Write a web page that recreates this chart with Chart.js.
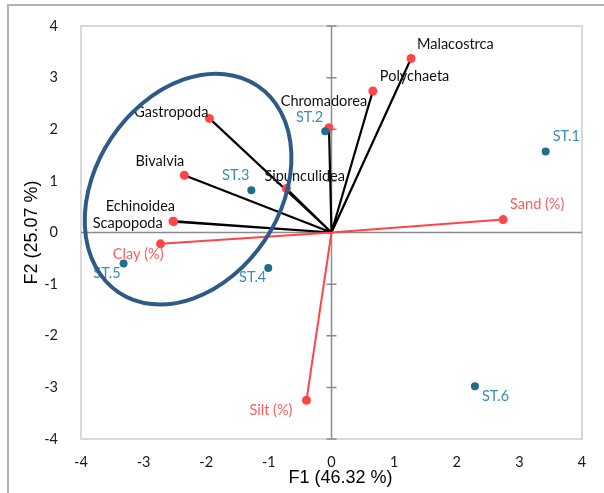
<!DOCTYPE html>
<html>
<head>
<meta charset="utf-8">
<script src="https://cdn.jsdelivr.net/npm/chart.js@4"></script>
<style>
  html, body { margin: 0; padding: 0; background: #ffffff; }
  #wrap { width: 604px; height: 493px; position: relative; }
</style>
</head>
<body>
<div id="wrap"><canvas id="c" width="604" height="493"></canvas></div>
<script>
// ---------- data ----------
const speciesNames = ['Malacostrca', 'Polychaeta', 'Chromadorea', 'Gastropoda', 'Bivalvia', 'Sipunculidea', 'Echinoidea', 'Scapopoda'];
const speciesF1 = [1.27, 0.66, -0.04, -1.95, -2.35, -0.72, -2.53, -2.52];
const speciesF2 = [3.37, 2.74, 2.03, 2.21, 1.11, 0.85, 0.22, 0.21];

const envNames = ['Sand (%)', 'Silt (%)', 'Clay (%)'];
const envF1 = [2.74, -0.40, -2.73];
const envF2 = [0.25, -3.25, -0.22];

const stationNames = ['ST.1', 'ST.2', 'ST.3', 'ST.4', 'ST.5', 'ST.6'];
const stationF1 = [3.42, -0.10, -1.28, -1.01, -3.32, 2.29];
const stationF2 = [1.57, 1.96, 0.82, -0.69, -0.60, -2.98];

const axisTicks = [-4, -3, -2, -1, 0, 1, 2, 3, 4];
const xTitle = 'F1 (46.32 %)';
const yTitle = 'F2 (25.07 %)';

// grouping ellipse (data units): centre, end of major axis, end of minor axis
const ellipseCenter = [-2.29, 0.84];
const ellipseMajorEnd = [-1.18, 2.84];
const ellipseMinorEnd = [-1.07, -0.16];

// ---------- helpers ----------
function points(xs, ys) { return xs.map((x, i) => ({ x: x, y: ys[i] })); }
function vectors(xs, ys) {
  const out = [];
  xs.forEach((x, i) => { out.push({ x: 0, y: 0 }, { x: x, y: ys[i] }, { x: null, y: null }); });
  return out;
}

const RED = '#ff4545';
const RED_TXT = '#ff5c5c';
const BLUE_DOT = '#1f6e8c';
const BLUE_TXT = '#3b8db5';
const LABEL_FONT = '14.5px Lato';

// label placement: [dx, dy, align] relative to each point
const labelPlacement = {
  species: [[6, -14, 'left'], [7, -15, 'left'], [-5, -26, 'center'], [-1, -6, 'right'], [0, -14, 'right'], [-22, -12, 'left'], [2, -15, 'right'], [-11, 2, 'right']],
  env: [[7, -15, 'left'], [-14, 10, 'right'], [3, 10, 'right']],
  stations: [[7, -15, 'left'], [-2, -14, 'right'], [-2, -15, 'right'], [-2, 9, 'right'], [-3, 10, 'right'], [7, 10, 'left']]
};

const framePlugin = {
  id: 'frame',
  beforeDraw(chart) {
    const ctx = chart.ctx;
    ctx.save();
    ctx.strokeStyle = '#b4b4b4';
    ctx.lineWidth = 2;
    ctx.beginPath();
    ctx.moveTo(8, 500); ctx.lineTo(8, 5); ctx.lineTo(610, 5);
    ctx.stroke();
    ctx.restore();
  },
  beforeDatasetsDraw(chart) {
    const { ctx, chartArea: a, scales: { x, y } } = chart;
    ctx.save();
    ctx.strokeStyle = '#d9d9d9';
    ctx.lineWidth = 2;
    ctx.strokeRect(a.left, a.top, a.right - a.left, a.bottom - a.top);
    const x0 = x.getPixelForValue(0), y0 = y.getPixelForValue(0);
    ctx.strokeStyle = '#8c8c8c';
    ctx.lineWidth = 1.5;
    ctx.beginPath();
    ctx.moveTo(a.left, y0); ctx.lineTo(a.right, y0);
    ctx.moveTo(x0, a.top); ctx.lineTo(x0, a.bottom);
    axisTicks.forEach(v => {
      const py = y.getPixelForValue(v);
      ctx.moveTo(x0 - 5, py); ctx.lineTo(x0 + 5, py);
    });
    ctx.stroke();
    // x axis title (Excel places it slightly right of the plot centre)
    ctx.fillStyle = '#000000';
    ctx.font = '18px "Liberation Sans"';
    ctx.textAlign = 'center';
    ctx.textBaseline = 'middle';
    ctx.fillText(xTitle, (a.left + a.right) / 2 + 9, a.bottom + 39);
    ctx.restore();
  }
};

const labelPlugin = {
  id: 'pointLabels',
  afterDatasetsDraw(chart) {
    const ctx = chart.ctx;
    ctx.save();
    ctx.font = LABEL_FONT;
    ctx.textBaseline = 'middle';
    chart.data.datasets.forEach((ds, di) => {
      if (!ds.labelKey) return;
      const meta = chart.getDatasetMeta(di);
      const names = ds.names;
      meta.data.forEach((el, i) => {
        const p = labelPlacement[ds.labelKey][i];
        ctx.fillStyle = ds.labelColor;
        ctx.textAlign = p[2];
        ctx.fillText(names[i], el.x + p[0], el.y + p[1]);
      });
    });
    // grouping ellipse on top
    const { x, y } = chart.scales;
    const cx = x.getPixelForValue(ellipseCenter[0]), cy = y.getPixelForValue(ellipseCenter[1]);
    const mx = x.getPixelForValue(ellipseMajorEnd[0]) - cx, my = y.getPixelForValue(ellipseMajorEnd[1]) - cy;
    const nx = x.getPixelForValue(ellipseMinorEnd[0]) - cx, ny = y.getPixelForValue(ellipseMinorEnd[1]) - cy;
    ctx.strokeStyle = '#2e5a88';
    ctx.lineWidth = 4;
    ctx.beginPath();
    ctx.ellipse(cx, cy, Math.hypot(mx, my), Math.hypot(nx, ny), Math.atan2(my, mx), 0, Math.PI * 2);
    ctx.stroke();
    ctx.restore();
  }
};

const tickFont = { family: 'Lato', size: 14.5 };

new Chart(document.getElementById('c'), {
  type: 'scatter',
  data: {
    datasets: [
      { data: points(stationF1, stationF2), names: stationNames, labelKey: 'stations', labelColor: BLUE_TXT,
        pointRadius: 4, pointBackgroundColor: BLUE_DOT, pointBorderWidth: 0, showLine: false, order: 0 },
      { data: points(envF1, envF2), names: envNames, labelKey: 'env', labelColor: RED_TXT,
        pointRadius: 4.5, pointBackgroundColor: RED, pointBorderWidth: 0, showLine: false, order: 1 },
      { data: points(speciesF1, speciesF2), names: speciesNames, labelKey: 'species', labelColor: '#111111',
        pointRadius: 4.5, pointBackgroundColor: RED, pointBorderWidth: 0, showLine: false, order: 2 },
      { data: vectors(envF1, envF2), showLine: true, spanGaps: false, borderColor: RED, borderWidth: 2,
        pointRadius: 0, order: 3 },
      { data: vectors(speciesF1, speciesF2), showLine: true, spanGaps: false, borderColor: '#000000', borderWidth: 2.2,
        pointRadius: 0, order: 4 }
    ]
  },
  options: {
    responsive: false,
    animation: false,
    events: [],
    layout: { padding: { left: 0, top: 26, right: 22, bottom: 0 } },
    plugins: { legend: { display: false }, tooltip: { enabled: false } },
    scales: {
      x: {
        type: 'linear', min: -4, max: 4,
        afterBuildTicks: s => { s.ticks = axisTicks.map(v => ({ value: v })); },
        afterFit: s => { s.height = 54; },
        grid: { display: false }, border: { display: false },
        ticks: { font: tickFont, color: '#1a1a1a', padding: 7, maxRotation: 0 },
        title: { display: false, text: xTitle }
      },
      y: {
        type: 'linear', min: -4, max: 4,
        afterBuildTicks: s => { s.ticks = axisTicks.map(v => ({ value: v })); },
        afterFit: s => { s.width = 81; },
        grid: { display: false }, border: { display: false },
        ticks: { font: tickFont, color: '#1a1a1a', padding: 15 },
        title: { display: true, text: yTitle, font: { family: 'Liberation Sans', size: 18 }, color: '#000000', padding: { top: 21, bottom: 0 } }
      }
    }
  },
  plugins: [framePlugin, labelPlugin]
});
</script>
</body>
</html>
